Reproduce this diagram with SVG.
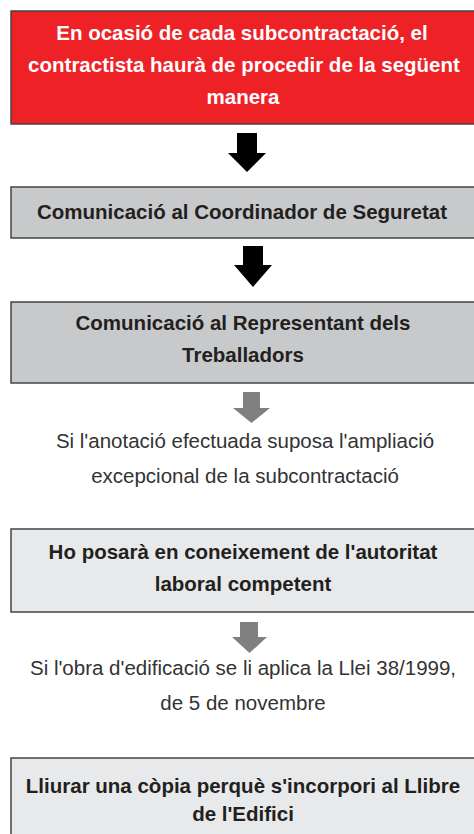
<svg xmlns="http://www.w3.org/2000/svg" width="474" height="834" viewBox="0 0 474 834">
<style>
.box{stroke:#444;stroke-width:1.5}
.red{fill:#ee2127}
.mid{fill:#c8c9cb}
.light{fill:#e8e9eb}
.t{font-family:"Liberation Sans",Arial,sans-serif;font-size:20.5px;text-anchor:middle}
.b{font-weight:bold;fill:#231f20}
.w{font-weight:bold;fill:#ffffff}
.r{fill:#333333}
.ak{fill:#000000}
.ag{fill:#808080}
</style>
<rect width="474" height="834" fill="#ffffff"/>
<g id="connectors">
<path class="ak" d="M237,133 H257 V153 H266 L247,172 L228,153 H237 Z"/>
<path class="ak" d="M243,246 H263 V265 H272 L253,287 L234,265 H243 Z"/>
<path class="ag" d="M243,392 H260 V408 H270 L251.5,423 L233,408 H243 Z"/>
<path class="ag" d="M240,622 H258 V637 H267 L249.5,653 L232,637 H240 Z"/>
</g>
<g id="node-start">
<rect class="box red" x="11" y="11" width="470" height="113"/>
<text class="t w" x="242" y="40">En ocasió de cada subcontractació, el</text>
<text class="t w" x="244" y="72">contractista haurà de procedir de la següent</text>
<text class="t w" x="243" y="104">manera</text>
</g>
<g id="node-coordinador">
<rect class="box mid" x="11" y="187" width="470" height="51"/>
<text class="t b" x="242" y="219">Comunicació al Coordinador de Seguretat</text>
</g>
<g id="node-representant">
<rect class="box mid" x="11" y="302" width="470" height="81"/>
<text class="t b" x="243" y="330">Comunicació al Representant dels</text>
<text class="t b" x="243" y="362">Treballadors</text>
</g>
<g id="label-ampliacio">
<text class="t r" x="245" y="448">Si l'anotació efectuada suposa l'ampliació</text>
<text class="t r" x="245" y="483">excepcional de la subcontractació</text>
</g>
<g id="node-autoritat">
<rect class="box light" x="11" y="529" width="470" height="83"/>
<text class="t b" x="243" y="559">Ho posarà en coneixement de l'autoritat</text>
<text class="t b" x="243" y="591">laboral competent</text>
</g>
<g id="label-llei">
<text class="t r" x="243" y="675">Si l'obra d'edificació se li aplica la Llei 38/1999,</text>
<text class="t r" x="243" y="710">de 5 de novembre</text>
</g>
<g id="node-llibre">
<rect class="box light" x="11" y="758" width="470" height="90"/>
<text class="t b" x="243" y="793">Lliurar una còpia perquè s'incorpori al Llibre</text>
<text class="t b" x="243" y="821">de l'Edifici</text>
</g>
</svg>
